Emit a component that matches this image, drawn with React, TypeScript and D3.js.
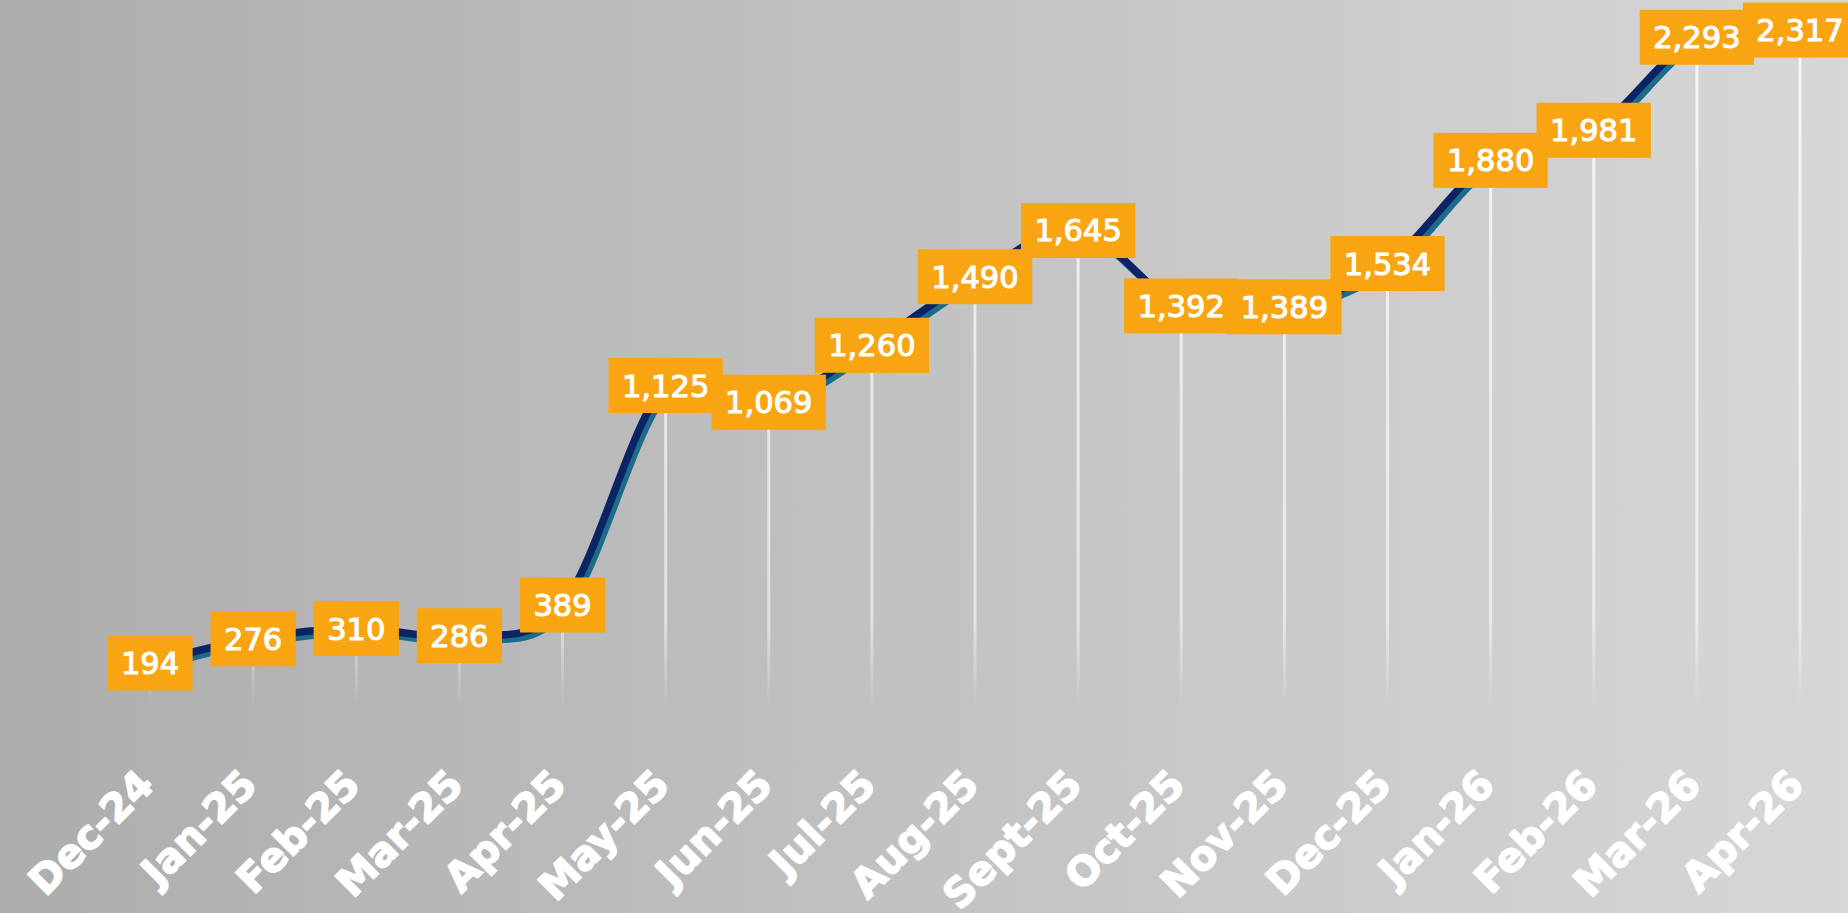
import React, { useEffect, useRef } from "react";
import * as d3 from "d3";

const months = [
  "Dec-24", "Jan-25", "Feb-25", "Mar-25", "Apr-25", "May-25", "Jun-25", "Jul-25", "Aug-25",
  "Sept-25", "Oct-25", "Nov-25", "Dec-25", "Jan-26", "Feb-26", "Mar-26", "Apr-26",
];
const values = [194, 276, 310, 286, 389, 1125, 1069, 1260, 1490, 1645, 1392, 1389, 1534, 1880, 1981, 2293, 2317];

const W = 1848;
const H = 913;

export default function App() {
  const ref = useRef<SVGSVGElement>(null);

  useEffect(() => {
    const svg = d3.select(ref.current);
    svg.selectAll("*").remove();

    const x = d3.scalePoint<string>().domain(months).range([150, 1800]);
    const y = d3.scaleLinear().domain([0, 2500]).range([721, -24.5]);
    const data = months.map((m, i) => ({ m, v: values[i] }));

    const defs = svg.append("defs");
    const bg = defs.append("linearGradient").attr("id", "bg").attr("x1", 0).attr("y1", 0).attr("x2", 1).attr("y2", 0);
    bg.append("stop").attr("offset", "0%").attr("stop-color", "#adadad");
    bg.append("stop").attr("offset", "100%").attr("stop-color", "#d7d7d7");

    const dg = defs.append("linearGradient").attr("id", "drop").attr("gradientUnits", "userSpaceOnUse")
      .attr("x1", 0).attr("y1", 0).attr("x2", 0).attr("y2", y(0));
    dg.append("stop").attr("offset", "0%").attr("stop-color", "#ffffff").attr("stop-opacity", 0.8);
    dg.append("stop").attr("offset", "86%").attr("stop-color", "#ffffff").attr("stop-opacity", 0.55);
    dg.append("stop").attr("offset", "98%").attr("stop-color", "#ffffff").attr("stop-opacity", 0);

    svg.append("rect").attr("width", W).attr("height", H).attr("fill", "url(#bg)");

    // drop lines
    svg.append("g").selectAll("line").data(data).join("line")
      .attr("x1", (d) => x(d.m)!).attr("x2", (d) => x(d.m)!)
      .attr("y1", (d) => y(d.v)).attr("y2", y(0))
      .attr("stroke", "url(#drop)").attr("stroke-width", 3);

    const line = d3.line<{ m: string; v: number }>()
      .x((d) => x(d.m)!).y((d) => y(d.v))
      .curve(d3.curveCardinal.tension(0));

    svg.append("path").datum(data).attr("d", line)
      .attr("transform", "translate(3.5,4)")
      .attr("fill", "none").attr("stroke", "#1c6b8b").attr("stroke-width", 8)
      .attr("stroke-linejoin", "round");
    svg.append("path").datum(data).attr("d", line)
      .attr("fill", "none").attr("stroke", "#0c2466").attr("stroke-width", 7.5)
      .attr("stroke-linejoin", "round");

    // labels
    const lg = svg.append("g");
    data.forEach((d) => {
      const g = lg.append("g").attr("transform", `translate(${x(d.m)},${y(d.v)})`);
      const rect = g.append("rect").attr("fill", "#f9a512");
      const t = g.append("text")
        .attr("text-anchor", "middle").attr("y", 11)
        .attr("font-family", "DejaVu Sans").attr("font-size", 30.5)
        .attr("fill", "#ffffff").attr("stroke", "#ffffff").attr("stroke-width", 1.1)
        .text(d3.format(",")(d.v));
      const w = (t.node() as SVGTextElement).getComputedTextLength() + 27;
      rect.attr("x", -w / 2).attr("y", -27.5).attr("width", w).attr("height", 55);
    });

    // x axis labels
    svg.append("g").selectAll("text").data(months).join("text")
      .attr("transform", (m) => `translate(${x(m)! + 6},787) rotate(-45)`)
      .attr("text-anchor", "end")
      .attr("font-family", "DejaVu Sans").attr("font-weight", "bold").attr("font-size", 40)
      .attr("fill", "#ffffff").attr("stroke", "#ffffff").attr("stroke-width", 1.5)
      .text((m) => m);
  }, []);

  return (
    <svg ref={ref} width={W} height={H} style={{ position: "fixed", left: 0, top: 0, display: "block" }} />
  );
}
